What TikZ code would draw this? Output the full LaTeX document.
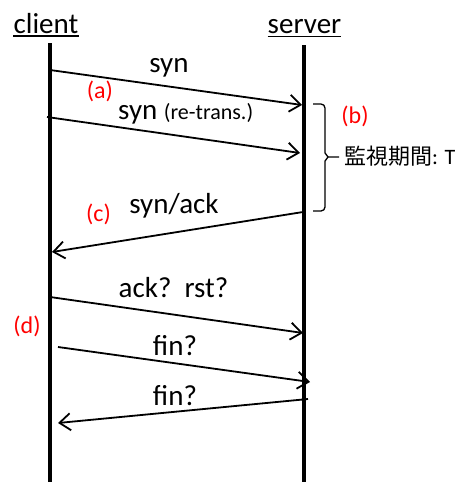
\documentclass[tikz,border=0pt]{standalone}
\usepackage{fontspec}
\setmainfont{Carlito}
\newfontfamily\jpfont{Noto Sans CJK JP}
\usetikzlibrary{arrows.meta}
\begin{document}
\begin{tikzpicture}[x=1pt,y=-1pt,
  lbl/.style={font=\fontsize{29}{29}\selectfont, inner sep=0pt, anchor=base},
  tag/.style={font=\fontsize{24}{24}\selectfont, text=red, inner sep=0pt, anchor=base},
  msg/.style={line width=1.8pt, -{Straight Barb[length=11pt,width=17pt,line width=1.8pt]}},
  life/.style={line width=4pt},
  uline/.style={line width=1.8pt},
  brace/.style={line width=1.3pt}]
\useasboundingbox (0,0) rectangle (459,482);

% participants
\node[lbl] (client) at (46,33) {client};
\node[lbl] (server) at (304.5,33.5) {server};
\draw[uline] ([yshift=-3pt]client.base west) -- ([yshift=-3pt]client.base east);
\draw[uline] ([yshift=-3pt]server.base west) -- ([yshift=-3pt]server.base east);

% lifelines
\coordinate (cTop) at (49.5,43);
\coordinate (cBot) at (49.5,482);
\coordinate (sTop) at (304,45);
\coordinate (sBot) at (304,482);
\draw[life] (cTop) -- (cBot);
\draw[life] (sTop) -- (sBot);

% messages
\coordinate (m1s) at (50,70);   \coordinate (m1e) at (302,105);
\coordinate (m2s) at (47,117);  \coordinate (m2e) at (300,153);
\coordinate (m3s) at (303,212); \coordinate (m3e) at (52,252);
\coordinate (m4s) at (50,297);  \coordinate (m4e) at (303,333);
\coordinate (m5s) at (58,347);  \coordinate (m5e) at (310,382);
\coordinate (m6s) at (308,399); \coordinate (m6e) at (58,423);
\draw[msg] (m1s) -- (m1e);
\draw[msg] (m2s) -- (m2e);
\draw[msg] (m3s) -- (m3e);
\draw[msg] (m4s) -- (m4e);
\draw[msg] (m5s) -- (m5e);
\draw[msg] (m6s) -- (m6e);

% message labels
\node[lbl] (syn1) at (169,72) {syn};
\node[lbl, anchor=base west] (syn2) at (118,119) {syn {\fontsize{22}{22}\selectfont(re-trans.)}};
\node[lbl] (synack) at (174,213) {syn/ack};
\node[lbl] (ackrst) at (173.5,297) {ack?\ \ rst?};
\node[lbl] (fin1) at (175,355) {fin?};
\node[lbl] (fin2) at (175,405) {fin?};

% step tags
\node[tag] (ta) at (100,98) {(a)};
\node[tag] (tb) at (355,123) {(b)};
\node[tag] (tc) at (98.5,221) {(c)};
\node[tag] (td) at (27,333) {(d)};

% monitoring period brace
\draw[brace] (313,104) -- (321,104) to[out=0,in=90] (325,108) -- (325,153)
  -- (328,157) -- (339,157);
\draw[brace] (328,157) -- (325,161) -- (325,207) to[out=-90,in=0] (321,211) -- (313,211);
\node[anchor=base west, inner sep=0pt] (period) at (344,164)
  {\jpfont\fontsize{22}{22}\selectfont 監視期間\rmfamily: T};
\end{tikzpicture}
\end{document}
